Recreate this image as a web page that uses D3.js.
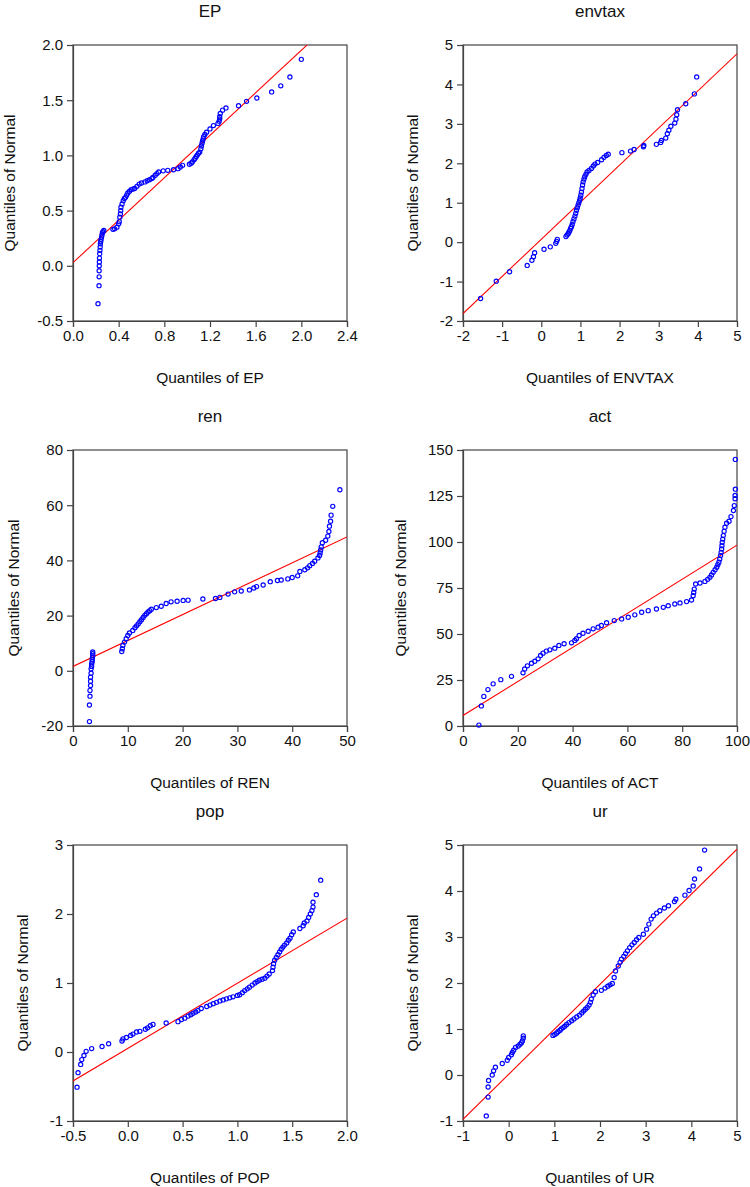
<!DOCTYPE html>
<html><head><meta charset="utf-8">
<script src="https://cdn.jsdelivr.net/npm/d3@7"></script>
<style>
html,body{margin:0;padding:0;background:#fff;}
svg{display:block;font-family:"Liberation Sans",Arial,sans-serif;}
</style></head>
<body>
<svg id="chart" width="750" height="1187"></svg>
<script>
// ---------- DATA ----------
const titles = ["EP", "envtax", "ren", "act", "pop", "ur"];
const xLabels = ["Quantiles of EP", "Quantiles of ENVTAX", "Quantiles of REN", "Quantiles of ACT", "Quantiles of POP", "Quantiles of UR"];

const xDomains = [[0, 2.4], [-2, 5], [0, 50], [0, 100], [-0.5, 2.0], [-1, 5]];
const yDomains = [[-0.5, 2.0], [-2, 5], [-20, 80], [0, 150], [-1, 3], [-1, 5]];
const xTickVals = [
  [0.0, 0.4, 0.8, 1.2, 1.6, 2.0, 2.4],
  [-2, -1, 0, 1, 2, 3, 4, 5],
  [0, 10, 20, 30, 40, 50],
  [0, 20, 40, 60, 80, 100],
  [-0.5, 0.0, 0.5, 1.0, 1.5, 2.0],
  [-1, 0, 1, 2, 3, 4, 5]
];
const yTickVals = [
  [-0.5, 0.0, 0.5, 1.0, 1.5, 2.0],
  [-2, -1, 0, 1, 2, 3, 4, 5],
  [-20, 0, 20, 40, 60, 80],
  [0, 25, 50, 75, 100, 125, 150],
  [-1, 0, 1, 2, 3],
  [-1, 0, 1, 2, 3, 4, 5]
];
const xTickFormats = [".1f", "d", "d", "d", ".1f", "d"];
const yTickFormats = [".1f", "d", "d", "d", "d", "d"];

// reference line: intercept, slope
const lineIntercepts = [0.028, 0.072, 1.6, 5.7, 0.052, 0.014];
const lineSlopes = [0.962, 0.941, 0.938, 0.926, 0.944, 0.979];

// quantile points [empirical quantile, normal quantile]
const epPoints = [
  [0.219,-0.343],[0.228,-0.18],[0.229,-0.10],[0.229,-0.045],[0.230,0.0],[0.231,0.034],[0.232,0.07],[0.234,0.11],
  [0.236,0.14],[0.238,0.17],[0.240,0.20],[0.243,0.22],[0.246,0.24],[0.250,0.26],[0.254,0.28],[0.258,0.30],[0.263,0.31],[0.27,0.32],
  [0.35,0.33],[0.365,0.335],[0.385,0.35],[0.40,0.38],[0.405,0.40],[0.41,0.44],[0.415,0.47],[0.418,0.50],[0.42,0.53],[0.43,0.56],
  [0.44,0.59],[0.45,0.61],[0.46,0.62],[0.47,0.64],[0.48,0.66],[0.495,0.675],[0.51,0.69],[0.525,0.695],[0.54,0.70],[0.56,0.72],
  [0.58,0.74],[0.60,0.75],[0.63,0.76],[0.65,0.77],[0.67,0.78],[0.69,0.79],[0.70,0.80],[0.72,0.82],[0.735,0.835],[0.75,0.85],
  [0.79,0.86],[0.83,0.865],[0.88,0.87],[0.92,0.88],[0.94,0.895],[0.96,0.91],
  [1.02,0.92],[1.035,0.93],[1.045,0.94],[1.06,0.96],[1.07,0.975],[1.08,0.99],[1.09,1.005],[1.10,1.02],[1.11,1.03],[1.12,1.06],
  [1.125,1.085],[1.13,1.11],[1.135,1.13],[1.14,1.15],[1.145,1.17],[1.155,1.19],[1.17,1.21],[1.20,1.24],[1.23,1.27],[1.27,1.29],
  [1.28,1.31],[1.285,1.33],[1.285,1.35],[1.29,1.38],[1.31,1.41],[1.34,1.43],
  [1.45,1.45],[1.52,1.49],[1.61,1.52],[1.74,1.575],[1.82,1.63],[1.90,1.71],[2.0,1.87]
];
const envtaxPoints = [
  [-1.55,-1.43],[-1.15,-0.99],[-0.81,-0.75],[-0.36,-0.59],[-0.24,-0.46],[-0.20,-0.37],[-0.17,-0.27],[0.07,-0.18],[0.23,-0.12],
  [0.37,-0.03],[0.39,0.02],[0.41,0.07],[0.63,0.14],[0.66,0.18],[0.69,0.22],[0.71,0.26],[0.73,0.30],[0.75,0.35],[0.77,0.39],[0.79,0.45],
  [0.81,0.52],[0.835,0.59],[0.86,0.66],[0.88,0.73],[0.90,0.81],[0.92,0.87],[0.94,0.94],[0.96,1.00],[0.98,1.06],[0.995,1.12],
  [1.01,1.19],[1.025,1.27],[1.04,1.36],[1.055,1.45],[1.07,1.53],[1.09,1.60],[1.11,1.66],[1.14,1.72],[1.17,1.78],[1.22,1.82],
  [1.28,1.87],[1.33,1.93],[1.37,1.98],[1.44,2.02],[1.54,2.09],[1.60,2.15],[1.66,2.20],[1.71,2.23],
  [2.06,2.27],[2.28,2.31],[2.37,2.35],[2.61,2.42],[2.62,2.45],[2.94,2.48],[3.05,2.53],[3.07,2.58],[3.18,2.64],[3.22,2.75],
  [3.26,2.84],[3.31,2.94],[3.41,3.02],[3.44,3.12],[3.46,3.23],[3.48,3.36],[3.69,3.51],[3.91,3.76],[3.97,4.19]
];
const renPoints = [
  [3.0,-18.4],[3.0,-12.4],[3.1,-9.2],[3.1,-7.1],[3.2,-5.3],[3.2,-3.8],[3.2,-2.3],[3.3,-0.9],[3.3,0.7],[3.4,1.6],[3.4,2.5],
  [3.5,3.3],[3.5,4.0],[3.55,4.8],[3.6,5.5],[3.6,6.2],[3.6,6.8],
  [8.9,7.0],[9.0,8.0],[9.1,9.2],[9.4,10.4],[9.7,11.6],[10.0,12.8],[10.3,13.7],[10.9,14.6],[11.3,15.6],[11.6,16.3],[11.9,17.0],
  [12.2,17.8],[12.5,18.5],[12.8,19.3],[13.1,20.1],[13.4,20.7],[13.7,21.3],[14.0,21.8],[14.3,22.3],[15.2,22.9],[16.1,23.4],
  [17.0,24.4],[17.9,25.0],[19.0,25.2],[20.1,25.5],[21.0,25.6],[23.7,26.0],[26.0,26.2],[26.8,26.6],[28.3,27.8],[29.5,28.6],
  [30.7,28.9],[32.2,29.3],[33.0,30.0],[33.5,30.5],[34.7,31.1],[36.0,32.3],[37.3,32.7],[38.0,32.9],[39.2,33.3],[40.0,33.8],
  [41.0,34.4],[41.4,36.0],[42.3,36.6],[42.8,37.3],[43.2,38.1],[43.7,38.9],[44.1,39.7],[44.7,40.9],[45.0,41.8],[45.1,42.7],
  [45.2,43.8],[45.3,44.9],[45.5,46.4],[46.1,47.3],[46.5,48.8],[46.7,50.5],[46.8,52.4],[47.0,54.2],[47.1,56.4],[47.4,59.6],[48.7,65.6]
];
const actPoints = [
  [5.8,0.5],[6.7,10.9],[7.6,16.1],[9.1,19.8],[11.0,22.9],[13.8,25.2],[17.7,27.0],[21.9,28.9],[22.5,31.0],[23.5,32.7],[25.0,34.1],
  [26.2,35.2],[27.4,36.5],[28.3,38.3],[29.2,39.6],[30.4,40.7],[31.7,41.4],[33.5,42.3],[35.0,43.8],[36.9,44.7],[39.6,45.2],
  [40.8,46.5],[41.4,47.4],[42.4,49.2],[43.8,50.4],[45.7,51.5],[47.5,52.8],[49.3,53.7],[50.5,54.6],[52.4,56.1],[55.2,57.3],
  [57.9,58.2],[60.3,59.1],[62.7,60.4],[65.2,61.8],[67.6,62.7],[70.6,63.6],[73.1,64.5],[74.9,65.4],[77.3,66.3],[79.2,66.9],
  [81.6,67.6],[83.4,68.5],[84.0,70.8],[84.2,72.6],[84.4,74.4],[84.9,77.2],[86.5,77.7],[88.3,78.6],[89.3,79.7],[90.1,80.8],
  [90.7,82.1],[91.3,83.5],[92.0,84.9],[92.6,86.3],[93.0,87.7],[93.4,89.0],[93.7,90.8],[94.0,92.6],[94.2,94.4],[94.4,96.2],
  [94.5,98.0],[94.6,99.8],[94.8,101.6],[95.0,103.5],[95.3,105.8],[95.6,108.0],[96.2,110.2],[97.1,111.3],[97.8,113.8],
  [98.7,117.1],[99.0,119.8],[99.3,123.5],[99.3,125.3],[99.4,128.7],[99.4,144.9]
];
const popPoints = [
  [-0.463,-0.51],[-0.454,-0.30],[-0.43,-0.18],[-0.42,-0.11],[-0.40,-0.05],[-0.38,0.01],[-0.33,0.05],[-0.235,0.08],[-0.175,0.12],
  [-0.053,0.16],[-0.044,0.19],[-0.013,0.21],[0.026,0.24],[0.047,0.26],[0.08,0.29],[0.11,0.30],[0.16,0.33],[0.18,0.35],
  [0.205,0.38],[0.23,0.40],[0.35,0.42],[0.458,0.44],[0.49,0.47],[0.52,0.49],[0.55,0.52],[0.575,0.54],[0.595,0.56],[0.62,0.58],
  [0.64,0.60],[0.67,0.63],[0.72,0.66],[0.75,0.68],[0.78,0.70],[0.81,0.72],[0.84,0.74],[0.87,0.755],[0.90,0.77],[0.93,0.785],
  [0.96,0.80],[1.0,0.82],[1.02,0.83],[1.045,0.86],[1.066,0.89],[1.09,0.915],[1.11,0.94],[1.135,0.97],[1.16,1.00],[1.18,1.02],
  [1.20,1.04],[1.225,1.055],[1.25,1.07],[1.27,1.10],[1.29,1.13],[1.32,1.18],[1.325,1.23],[1.33,1.28],[1.34,1.33],[1.355,1.37],
  [1.37,1.41],[1.385,1.45],[1.40,1.49],[1.415,1.52],[1.43,1.55],[1.45,1.58],[1.465,1.62],[1.48,1.65],[1.495,1.70],[1.51,1.74],
  [1.57,1.79],[1.60,1.83],[1.61,1.87],[1.635,1.90],[1.65,1.95],[1.665,2.00],[1.68,2.05],[1.69,2.10],[1.69,2.17],[1.72,2.28],[1.76,2.49]
];
const urPoints = [
  [-0.49,-0.89],[-0.45,-0.48],[-0.45,-0.26],[-0.44,-0.12],[-0.36,0.0],[-0.33,0.09],[-0.29,0.17],[-0.14,0.25],[-0.03,0.32],
  [0.0,0.38],[0.06,0.44],[0.08,0.49],[0.11,0.54],[0.15,0.60],[0.21,0.63],[0.25,0.67],[0.28,0.70],[0.30,0.74],[0.32,0.80],[0.32,0.85],
  [0.97,0.86],[1.01,0.88],[1.05,0.91],[1.08,0.94],[1.12,0.97],[1.15,1.00],[1.19,1.03],[1.23,1.06],[1.27,1.10],[1.32,1.14],
  [1.38,1.18],[1.43,1.22],[1.49,1.26],[1.55,1.30],[1.60,1.35],[1.64,1.39],[1.68,1.43],[1.72,1.47],[1.76,1.52],[1.79,1.58],
  [1.81,1.65],[1.85,1.74],[1.90,1.81],[2.03,1.84],[2.11,1.89],[2.17,1.93],[2.22,1.96],[2.27,1.99],[2.31,2.12],[2.34,2.26],
  [2.40,2.37],[2.44,2.45],[2.47,2.52],[2.52,2.58],[2.56,2.64],[2.60,2.70],[2.65,2.77],[2.70,2.83],[2.75,2.88],[2.80,2.94],
  [2.85,2.99],[2.95,3.06],[3.02,3.17],[3.07,3.28],[3.12,3.39],[3.17,3.46],[3.24,3.52],[3.31,3.57],[3.41,3.63],[3.50,3.68],
  [3.63,3.77],[3.66,3.82],[3.86,3.91],[3.95,4.01],[4.04,4.11],[4.07,4.26],[4.18,4.48],[4.29,4.89]
];
const allPoints = [epPoints, envtaxPoints, renPoints, actPoints, popPoints, urPoints];

// ---------- LAYOUT ----------
const colLeft = [73, 463];
const rowTop = [45, 450, 845];
const plotW = 274, plotH = 276;

const svg = d3.select("#chart");
const fmt = f => v => d3.format(f)(v).replace("\u2212", "-");

titles.forEach((title, i) => {
  const col = i % 2, row = Math.floor(i / 2);
  const left = colLeft[col], top = rowTop[row];
  const g = svg.append("g").attr("transform", `translate(${left},${top})`);

  const x = d3.scaleLinear().domain(xDomains[i]).range([0, plotW]);
  const y = d3.scaleLinear().domain(yDomains[i]).range([plotH, 0]);

  const clipId = "clip" + i;
  g.append("clipPath").attr("id", clipId).append("rect")
    .attr("x", 0).attr("y", 0).attr("width", plotW).attr("height", plotH);

  g.append("rect").attr("x", 0).attr("y", 0).attr("width", plotW).attr("height", plotH)
    .attr("fill", "none").attr("stroke", "#444").attr("stroke-width", 1.2);

  const xAxis = d3.axisBottom(x).tickValues(xTickVals[i]).tickFormat(fmt(xTickFormats[i])).tickSize(6).tickPadding(3);
  const yAxis = d3.axisLeft(y).tickValues(yTickVals[i]).tickFormat(fmt(yTickFormats[i])).tickSize(6).tickPadding(4);
  const gx = g.append("g").attr("transform", `translate(0,${plotH})`).call(xAxis);
  const gy = g.append("g").call(yAxis);
  [gx, gy].forEach(a => {
    a.select(".domain").attr("stroke", "#444").attr("stroke-width", 1.2);
    a.selectAll(".tick line").attr("stroke", "#444").attr("stroke-width", 1.2);
    a.selectAll(".tick text").attr("fill", "#111").style("font-size", "15px")
      .style("font-family", '"Liberation Sans", Arial, sans-serif');
  });

  const a0 = lineIntercepts[i], b0 = lineSlopes[i];
  const [x0, x1] = xDomains[i];
  g.append("line").attr("clip-path", `url(#${clipId})`)
    .attr("x1", x(x0)).attr("y1", y(a0 + b0 * x0))
    .attr("x2", x(x1)).attr("y2", y(a0 + b0 * x1))
    .attr("stroke", "#ff0000").attr("stroke-width", 1.1);

  g.append("g").selectAll("circle").data(allPoints[i]).join("circle")
    .attr("cx", d => x(d[0])).attr("cy", d => y(d[1])).attr("r", 2.1)
    .attr("fill", "none").attr("stroke", "#0000ff").attr("stroke-width", 1.15);

  g.append("text").attr("x", plotW / 2).attr("y", -28).attr("text-anchor", "middle")
    .style("font-size", "17px").attr("fill", "#111").text(title);

  g.append("text").attr("x", plotW / 2).attr("y", plotH + 62).attr("text-anchor", "middle")
    .style("font-size", "15.5px").attr("fill", "#111").text(xLabels[i]);

  let minX = 0;
  gy.selectAll(".tick text").each(function () {
    const bb = this.getBBox();
    const tx = -6 - 4 - bb.width;
    if (tx < minX) minX = tx;
  });
  g.append("text").attr("transform", `translate(${minX - 22},${plotH / 2}) rotate(-90)`)
    .attr("text-anchor", "middle").style("font-size", "15.5px").attr("fill", "#111")
    .text("Quantiles of Normal");
});
</script>
</body></html>
